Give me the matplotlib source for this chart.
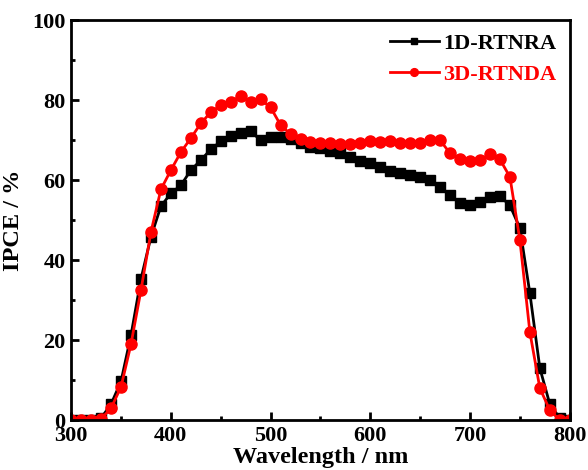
import matplotlib.pyplot as plt
import numpy as np

plt.rcParams['font.family'] = ['Liberation Serif', 'DejaVu Serif']
plt.rcParams['font.weight'] = 'bold'

wavelength = np.arange(300, 801, 10)

ipce_1d = [0, 0, 0, 0.5, 4, 9.7, 21.2, 35.3, 45.8, 53.5,
           56.7, 58.7, 62.5, 65, 67.7, 69.7, 71, 71.8, 72.2, 70,
           70.7, 70.8, 70.2, 69.3, 68.4, 68, 67.2, 66.7, 65.8, 64.8,
           64.2, 63.3, 62.3, 61.7, 61.2, 60.8, 60, 58.3, 56.2, 54.2,
           53.7, 54.5, 55.7, 56, 53.7, 48, 31.7, 13, 4, 0.5,
           0]

ipce_3d = [0, 0, 0, 0.3, 3, 8.3, 19, 32.5, 47, 57.7,
           62.5, 67, 70.5, 74.2, 77, 78.7, 79.6, 81, 79.6, 80.2,
           78.2, 73.8, 71.5, 70.2, 69.6, 69.2, 69.3, 69, 69, 69.2,
           69.8, 69.6, 69.7, 69.3, 69.2, 69.4, 70, 70, 66.7, 65.2,
           64.8, 65, 66.5, 65.2, 60.8, 45, 22, 8, 2.5, 0,
           0]

fig = plt.figure(figsize=(5.88, 4.7), dpi=100)
ax = fig.add_axes([0.121, 0.106, 0.848, 0.851])

ax.plot(wavelength, ipce_1d, color='black', marker='s', markersize=7, linewidth=2, label='1D-RTNRA')
ax.plot(wavelength, ipce_3d, color='red', marker='o', markersize=8, linewidth=2, label='3D-RTNDA')

ax.set_xlim(300, 800)
ax.set_ylim(0, 100)
ax.set_xticks([300, 400, 500, 600, 700, 800])
ax.set_xticks([350, 450, 550, 650, 750], minor=True)
ax.set_yticks([0, 20, 40, 60, 80, 100])
ax.set_yticks([10, 30, 50, 70, 90], minor=True)
ax.tick_params(which='major', direction='in', length=6, width=2, labelsize=16, pad=4)
ax.tick_params(which='minor', direction='in', length=3, width=2)
for s in ax.spines.values():
    s.set_linewidth(2)

ax.set_xlabel('Wavelength / nm', fontsize=17.5, fontweight='bold', labelpad=1)
ax.set_ylabel('IPCE / %', fontsize=17.5, fontweight='bold', labelpad=6)

leg = ax.legend(loc='upper right', frameon=False, fontsize=16, handlelength=2.2,
                markerscale=0.7, handletextpad=0.2, labelspacing=0.45,
                borderaxespad=0.2)
for txt, col in zip(leg.get_texts(), ['black', 'red']):
    txt.set_color(col)

plt.savefig('out.png', dpi=100)
